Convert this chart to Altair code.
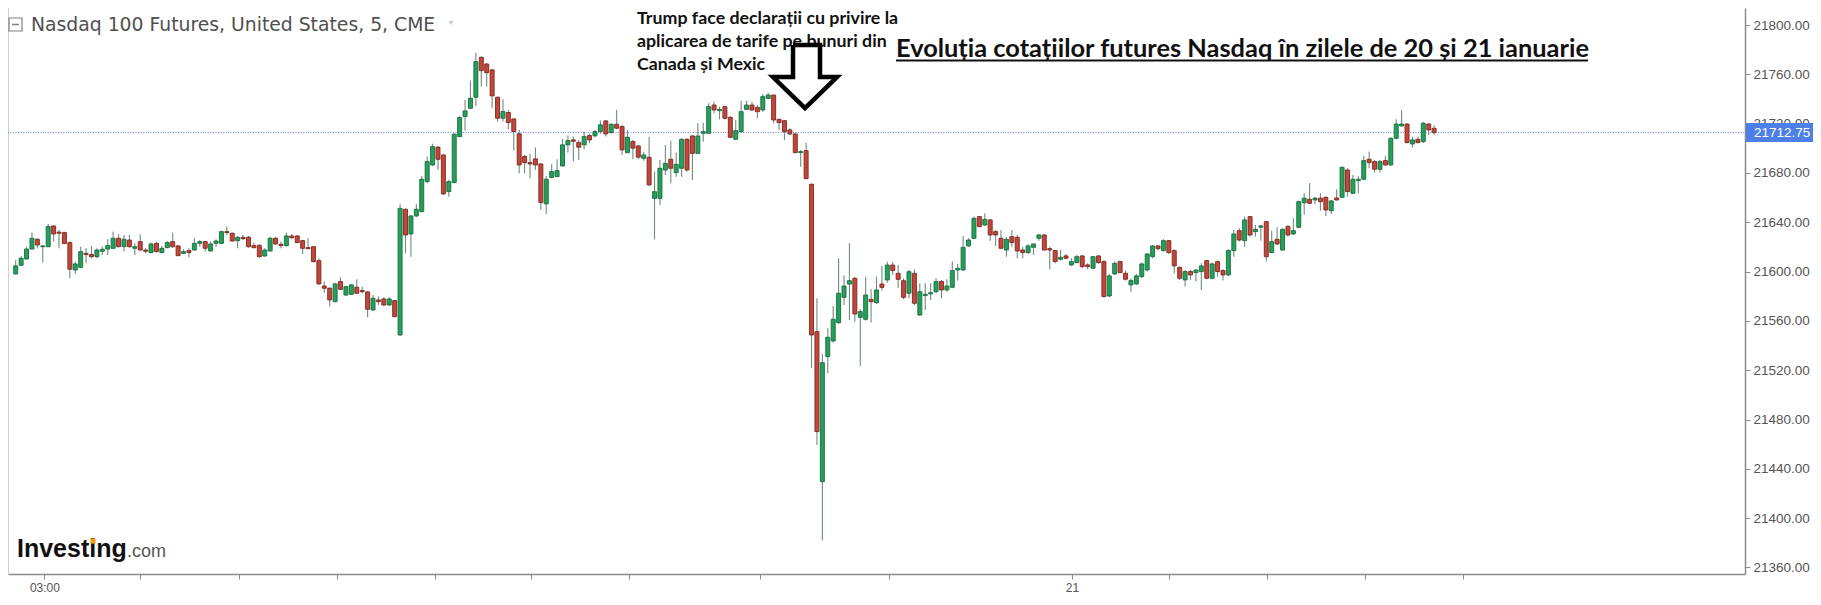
import altair as alt
import pandas as pd

# ---------------- data ----------------
opens = [21598.1, 21605.1, 21610.2, 21618.3, 21626.2, 21620.2, 21620.2, 21637.0, 21632.0, 21631.6,
         21623.5, 21601.3, 21603.5, 21614.8, 21613.8, 21612.1, 21616.5, 21618.3, 21618.9, 21627.0,
         21620.2, 21625.6, 21618.9, 21624.3, 21617.5, 21615.4, 21622.9, 21615.4, 21619.4, 21624.3,
         21620.8, 21614.8, 21617.0, 21617.5, 21622.9, 21624.3, 21616.7, 21622.9, 21622.9, 21632.4,
         21631.1, 21625.1, 21627.8, 21627.8, 21621.1, 21621.3, 21612.7, 21616.7, 21627.0, 21622.1,
         21621.1, 21628.9, 21628.9, 21625.1, 21619.4, 21620.2, 21608.9, 21588.3, 21586.5, 21575.6,
         21591.9, 21581.0, 21581.6, 21587.3, 21584.6, 21583.5, 21568.9, 21577.0, 21577.8, 21572.9,
         21576.5, 21548.6, 21650.5, 21630.5, 21645.1, 21648.7, 21673.0, 21686.5, 21700.9, 21694.6,
         21664.9, 21672.2, 21709.5, 21725.7, 21732.5, 21741.4, 21773.8, 21768.4, 21763.6, 21741.4,
         21724.4, 21729.0, 21723.8, 21711.7, 21693.3, 21688.4, 21691.4, 21687.3, 21654.9, 21676.3,
         21677.1, 21685.7, 21702.8, 21706.8, 21704.6, 21702.8, 21710.3, 21710.1, 21713.6, 21722.2,
         21712.8, 21719.5, 21717.6, 21696.5, 21705.5, 21701.9, 21691.9, 21692.7, 21659.4, 21659.4,
         21682.4, 21691.1, 21680.3, 21683.8, 21707.3, 21710.0, 21695.9, 21712.2, 21712.2, 21735.1,
         21730.5, 21733.8, 21725.1, 21707.3, 21713.5, 21731.6, 21735.1, 21733.2, 21731.1, 21740.5,
         21743.2, 21723.5, 21722.4, 21714.9, 21711.6, 21696.5, 21698.1, 21670.8, 21551.3, 21429.6,
         21531.0, 21543.7, 21558.6, 21579.1, 21589.9, 21594.5, 21562.9, 21561.3, 21577.5, 21574.8,
         21589.9, 21593.2, 21605.3, 21598.6, 21592.6, 21582.4, 21598.6, 21564.8, 21580.5, 21581.9,
         21583.7, 21591.9, 21585.1, 21587.3, 21601.3, 21601.3, 21620.8, 21627.0, 21644.6, 21637.8,
         21641.9, 21632.4, 21627.0, 21617.5, 21628.3, 21627.8, 21617.5, 21615.4, 21619.7, 21627.0,
         21629.7, 21618.6, 21617.0, 21610.0, 21612.7, 21605.4, 21607.3, 21612.7, 21605.4, 21602.7,
         21612.7, 21608.1, 21580.2, 21598.1, 21608.1, 21598.6, 21589.2, 21590.0, 21595.9, 21601.3,
         21612.1, 21620.8, 21617.0, 21625.1, 21617.0, 21603.5, 21593.2, 21600.0, 21599.2, 21600.0,
         21608.9, 21594.6, 21608.1, 21600.8, 21597.3, 21617.0, 21633.2, 21625.1, 21644.6, 21632.4,
         21636.0, 21640.5, 21615.4, 21626.2, 21617.5, 21636.5, 21630.5, 21635.9, 21655.9, 21658.6,
         21658.1, 21659.5, 21660.3, 21649.4, 21659.7, 21660.3, 21682.4, 21663.5, 21673.8, 21674.9,
         21691.1, 21689.2, 21683.0, 21690.0, 21686.5, 21708.1, 21718.1, 21719.7, 21703.5, 21707.3,
         21705.4, 21719.7, 21716.2]
highs = [21609.4, 21612.7, 21620.2, 21631.6, 21627.0, 21621.6, 21638.6, 21637.5, 21633.8, 21632.4,
         21624.3, 21608.1, 21620.2, 21618.9, 21620.8, 21618.9, 21620.2, 21626.2, 21632.4, 21630.2,
         21629.7, 21629.7, 21622.9, 21630.2, 21618.9, 21623.5, 21624.0, 21620.8, 21624.8, 21631.6,
         21621.6, 21618.1, 21618.9, 21627.0, 21625.6, 21625.1, 21624.3, 21626.2, 21633.2, 21636.5,
         21631.6, 21628.9, 21629.7, 21628.9, 21623.5, 21622.1, 21618.9, 21628.3, 21628.3, 21624.3,
         21631.6, 21630.2, 21629.7, 21625.6, 21627.0, 21620.8, 21610.8, 21591.9, 21587.3, 21591.0,
         21595.4, 21588.3, 21590.0, 21593.8, 21587.8, 21584.3, 21581.0, 21579.7, 21579.2, 21579.2,
         21577.0, 21654.8, 21651.3, 21645.9, 21654.8, 21677.6, 21693.3, 21703.6, 21701.9, 21695.2,
         21674.4, 21712.2, 21726.3, 21739.2, 21754.9, 21777.6, 21774.4, 21769.0, 21764.1, 21741.9,
         21739.8, 21731.1, 21724.4, 21714.9, 21694.6, 21695.5, 21700.6, 21687.9, 21677.6, 21687.1,
         21691.1, 21707.6, 21710.3, 21709.5, 21706.8, 21713.6, 21711.7, 21714.9, 21722.5, 21723.0,
         21720.3, 21731.1, 21719.0, 21714.9, 21706.8, 21702.8, 21697.3, 21709.4, 21681.1, 21690.5,
         21702.7, 21706.2, 21696.5, 21708.1, 21708.1, 21710.8, 21720.3, 21720.8, 21736.5, 21737.8,
         21733.8, 21734.3, 21726.2, 21723.0, 21738.6, 21738.6, 21737.8, 21735.1, 21744.0, 21745.1,
         21743.2, 21723.5, 21723.0, 21716.2, 21712.7, 21698.6, 21704.6, 21671.6, 21578.3, 21533.2,
         21554.0, 21572.1, 21610.8, 21596.9, 21623.0, 21595.9, 21569.4, 21595.9, 21585.6, 21595.9,
         21604.5, 21608.0, 21608.0, 21605.3, 21594.5, 21601.3, 21601.8, 21590.5, 21590.5, 21590.5,
         21594.6, 21593.2, 21593.8, 21608.1, 21606.2, 21628.9, 21627.0, 21644.6, 21645.1, 21647.3,
         21642.4, 21633.8, 21633.8, 21627.8, 21633.8, 21629.7, 21620.2, 21622.1, 21622.4, 21630.5,
         21630.5, 21620.2, 21617.5, 21617.5, 21614.3, 21610.8, 21613.5, 21613.5, 21606.7, 21612.7,
         21613.5, 21609.4, 21598.1, 21608.1, 21608.9, 21600.8, 21594.6, 21598.1, 21607.3, 21614.8,
         21621.6, 21621.6, 21626.2, 21625.6, 21618.1, 21604.0, 21601.3, 21601.3, 21601.9, 21606.7,
         21609.4, 21607.3, 21608.9, 21601.9, 21618.1, 21633.8, 21635.1, 21644.6, 21645.1, 21637.8,
         21637.8, 21641.3, 21633.2, 21635.9, 21635.1, 21637.8, 21643.2, 21657.6, 21663.5, 21671.6,
         21660.8, 21663.5, 21660.8, 21658.1, 21666.7, 21685.1, 21683.8, 21678.4, 21677.6, 21693.8,
         21697.3, 21690.5, 21690.5, 21693.8, 21708.9, 21723.5, 21731.1, 21720.3, 21709.5, 21709.5,
         21721.6, 21720.3, 21718.9]
lows = [21597.5, 21605.1, 21610.0, 21618.1, 21618.9, 21607.3, 21619.7, 21624.3, 21618.9, 21622.4,
        21594.6, 21598.1, 21602.9, 21606.7, 21610.8, 21610.8, 21613.5, 21613.5, 21618.1, 21619.7,
        21616.2, 21619.4, 21613.5, 21617.0, 21614.8, 21614.8, 21615.4, 21614.8, 21618.9, 21619.4,
        21612.7, 21614.3, 21611.6, 21617.0, 21620.2, 21616.2, 21616.2, 21620.2, 21622.4, 21629.7,
        21624.3, 21618.9, 21625.6, 21619.4, 21618.9, 21611.3, 21612.1, 21616.2, 21621.6, 21618.9,
        21620.2, 21626.2, 21622.9, 21614.3, 21618.3, 21607.3, 21589.2, 21582.9, 21571.6, 21575.1,
        21585.1, 21580.2, 21581.0, 21581.9, 21582.4, 21563.0, 21568.3, 21572.9, 21572.1, 21572.1,
        21562.9, 21547.8, 21614.8, 21612.1, 21644.0, 21647.9, 21671.7, 21685.7, 21682.5, 21662.2,
        21660.8, 21671.7, 21709.0, 21714.4, 21731.7, 21734.4, 21750.1, 21750.1, 21732.5, 21721.7,
        21721.7, 21715.5, 21698.2, 21679.8, 21679.8, 21675.7, 21682.5, 21650.0, 21646.8, 21675.7,
        21676.5, 21685.2, 21696.5, 21689.2, 21690.6, 21699.2, 21704.1, 21709.0, 21711.7, 21709.5,
        21711.7, 21715.5, 21694.6, 21696.0, 21691.1, 21691.1, 21690.0, 21669.4, 21626.2, 21654.0,
        21678.4, 21671.6, 21677.0, 21677.0, 21681.1, 21674.3, 21695.4, 21705.4, 21711.6, 21728.4,
        21723.5, 21723.5, 21708.1, 21706.7, 21712.7, 21731.1, 21730.5, 21724.3, 21729.7, 21739.7,
        21720.3, 21714.9, 21706.7, 21710.8, 21695.9, 21685.1, 21674.9, 21521.6, 21459.4, 21381.8,
        21517.5, 21542.4, 21557.5, 21572.9, 21560.7, 21559.4, 21523.4, 21560.2, 21558.6, 21573.7,
        21584.5, 21591.0, 21597.2, 21586.4, 21577.5, 21578.3, 21572.9, 21564.0, 21568.9, 21577.0,
        21582.4, 21578.3, 21583.7, 21586.5, 21592.7, 21600.8, 21620.2, 21626.2, 21636.0, 21637.0,
        21625.1, 21620.8, 21618.1, 21612.1, 21620.2, 21610.8, 21610.8, 21614.3, 21613.5, 21625.1,
        21617.0, 21601.9, 21606.7, 21608.9, 21610.0, 21604.6, 21606.7, 21602.7, 21601.9, 21601.9,
        21606.2, 21579.2, 21579.2, 21597.3, 21598.6, 21592.7, 21583.7, 21589.2, 21594.6, 21600.0,
        21610.8, 21617.0, 21616.2, 21614.3, 21598.6, 21593.2, 21587.8, 21593.2, 21591.9, 21585.1,
        21593.8, 21593.8, 21595.9, 21592.7, 21596.5, 21612.1, 21624.3, 21620.2, 21628.4, 21628.4,
        21625.1, 21608.1, 21614.8, 21621.6, 21617.0, 21628.4, 21629.7, 21635.1, 21646.0, 21654.9,
        21654.9, 21649.4, 21645.1, 21646.8, 21657.6, 21659.5, 21660.8, 21663.0, 21663.5, 21674.3,
        21683.8, 21680.3, 21680.3, 21685.7, 21685.7, 21707.3, 21717.6, 21704.0, 21700.8, 21704.0,
        21704.6, 21710.8, 21710.8]
closes = [21604.6, 21610.8, 21618.3, 21627.0, 21621.6, 21620.8, 21636.5, 21630.5, 21631.1, 21622.7,
          21601.9, 21606.2, 21616.2, 21613.8, 21612.1, 21617.5, 21618.1, 21621.1, 21627.0, 21620.2,
          21626.2, 21620.2, 21620.2, 21617.5, 21616.5, 21622.4, 21616.2, 21618.9, 21623.5, 21620.2,
          21612.9, 21616.2, 21615.4, 21622.9, 21624.3, 21618.9, 21622.4, 21624.8, 21632.4, 21631.6,
          21624.8, 21627.8, 21626.7, 21620.2, 21619.4, 21612.1, 21617.5, 21627.0, 21622.4, 21621.1,
          21628.9, 21627.5, 21623.5, 21618.9, 21618.6, 21608.1, 21590.0, 21586.5, 21577.0, 21590.0,
          21585.6, 21587.8, 21589.2, 21582.4, 21583.7, 21569.4, 21578.3, 21575.6, 21572.9, 21577.8,
          21563.5, 21651.3, 21629.7, 21645.1, 21650.5, 21674.9, 21689.2, 21701.4, 21691.1, 21663.0,
          21673.0, 21711.4, 21724.9, 21730.3, 21740.6, 21770.3, 21763.0, 21761.4, 21742.5, 21724.4,
          21729.8, 21720.9, 21713.6, 21686.5, 21688.4, 21687.3, 21686.5, 21656.0, 21674.9, 21681.1,
          21681.9, 21702.8, 21706.3, 21705.7, 21700.9, 21709.5, 21706.8, 21713.6, 21719.0, 21711.7,
          21719.5, 21716.3, 21698.7, 21709.0, 21700.1, 21692.8, 21694.6, 21670.3, 21664.8, 21683.8,
          21687.8, 21683.8, 21687.0, 21707.3, 21682.4, 21695.9, 21710.0, 21713.5, 21733.8, 21731.1,
          21731.6, 21724.3, 21708.9, 21714.3, 21729.7, 21735.1, 21731.1, 21729.7, 21741.9, 21743.2,
          21723.0, 21720.8, 21713.5, 21711.6, 21696.5, 21697.3, 21675.4, 21548.6, 21470.2, 21526.1,
          21546.7, 21561.3, 21582.4, 21588.3, 21592.6, 21565.6, 21567.5, 21581.0, 21575.6, 21585.1,
          21587.2, 21605.3, 21600.8, 21593.7, 21579.1, 21599.9, 21574.3, 21583.7, 21581.6, 21582.9,
          21591.9, 21585.1, 21588.3, 21600.8, 21602.7, 21619.7, 21625.6, 21643.2, 21636.5, 21642.4,
          21629.7, 21629.7, 21618.9, 21626.2, 21623.5, 21616.7, 21615.4, 21620.8, 21622.4, 21629.7,
          21617.5, 21617.5, 21608.1, 21611.6, 21610.8, 21608.1, 21612.1, 21604.0, 21604.0, 21612.1,
          21607.3, 21579.7, 21596.5, 21606.7, 21599.2, 21593.8, 21592.7, 21596.5, 21606.2, 21614.3,
          21620.8, 21618.6, 21625.1, 21615.4, 21604.6, 21594.6, 21600.0, 21597.3, 21601.3, 21604.6,
          21594.6, 21606.2, 21600.0, 21597.3, 21617.0, 21630.5, 21625.6, 21641.9, 21629.7, 21634.3,
          21637.0, 21612.1, 21624.3, 21622.4, 21634.3, 21629.7, 21633.2, 21656.7, 21659.5, 21655.4,
          21659.5, 21656.7, 21650.0, 21657.3, 21658.1, 21684.6, 21664.9, 21674.9, 21674.9, 21690.0,
          21688.4, 21683.0, 21689.2, 21686.5, 21708.1, 21719.7, 21719.7, 21704.6, 21706.8, 21704.6,
          21720.3, 21714.9, 21712.75]

last_price = 21712.75
price_ticks = [21360, 21400, 21440, 21480, 21520, 21560, 21600, 21640, 21680, 21720, 21760, 21800]
time_tick_pos = [5.3, 22.9, 41.2, 59.3, 77.4, 95.1, 113.2, 137.4, 161.3, 195.1, 213.0, 231.1, 249.2, 267.3]
time_tick_labels = ["03:00", "", "", "", "", "", "", "", "", "21", "", "", "", ""]

header_text = "Nasdaq 100 Futures, United States, 5, CME"
note_lines = ["Trump face declarații cu privire la",
              "aplicarea de tarife pe bunuri din",
              "Canada și Mexic"]
title_text = "Evoluția cotațiilor futures Nasdaq în zilele de 20 și 21 ianuarie"
logo_main, logo_suffix = "Investing", ".com"

# arrow outline (annotation shape, in pixels of the plot area)
arrow_px = [(785, 37), (812, 37), (812, 69), (829, 69), (797, 100), (765, 69), (785, 69), (785, 37)]

# ---------------- layout / style ----------------
W, H = 1737, 566
Y_DOMAIN = [21354.7, 21813.8]
X_DOMAIN = [-0.5, 318.5]
GREEN, GREEN_EDGE = "#24a05b", "#1a6b3f"
RED, RED_EDGE = "#c4463b", "#7a2820"
WICK = "#6f8d7d"
AXIS_GRAY = "#8a8a8a"
LABEL_GRAY = "#555555"

n = len(closes)
df = pd.DataFrame({"i": list(range(n)), "open": opens, "high": highs, "low": lows, "close": closes})
df["dir"] = ["up" if c >= o else "down" for o, c in zip(df["open"], df["close"])]
df["body_lo"] = df[["open", "close"]].min(axis=1)
df["body_hi"] = df[["open", "close"]].max(axis=1)

label_expr = " : ".join(
    f"datum.value == {p} ? '{l}'" for p, l in zip(time_tick_pos, time_tick_labels) if l
) + " : ''"

x_axis = alt.Axis(values=time_tick_pos, labelExpr=label_expr, title=None, grid=False,
                  tickSize=5, tickColor=AXIS_GRAY, domainColor=AXIS_GRAY, domainWidth=1.5,
                  labelFont="Liberation Sans", labelFontSize=12, labelColor=LABEL_GRAY,
                  labelPadding=3, labelOverlap=False, labelFlush=False,
                  labelFontWeight={"condition": {"test": "datum.label == '21'", "value": "bold"},
                                   "value": "normal"})
y_axis = alt.Axis(orient="right", values=price_ticks, format=".2f", title=None, grid=False,
                  tickSize=5, tickColor=AXIS_GRAY, domainColor=AXIS_GRAY, domainWidth=1.5,
                  labelFont="Liberation Sans", labelFontSize=13.5, labelColor=LABEL_GRAY,
                  labelPadding=3)
xs = alt.Scale(domain=X_DOMAIN, nice=False, zero=False)
ys = alt.Scale(domain=Y_DOMAIN, nice=False, zero=False)

base = alt.Chart(df)

wicks = base.mark_rule(color=WICK, strokeWidth=1.1).encode(
    x=alt.X("i:Q", scale=xs, axis=x_axis),
    y=alt.Y("low:Q", scale=ys, axis=y_axis),
    y2="high:Q",
)
bodies = base.mark_bar(size=4.0, strokeWidth=0.9).encode(
    x=alt.X("i:Q", scale=xs, axis=x_axis),
    y=alt.Y("body_lo:Q", scale=ys, axis=y_axis),
    y2="body_hi:Q",
    color=alt.Color("dir:N", scale=alt.Scale(domain=["up", "down"], range=[GREEN, RED]), legend=None),
    stroke=alt.Stroke("dir:N", scale=alt.Scale(domain=["up", "down"], range=[GREEN_EDGE, RED_EDGE]), legend=None),
)

one = pd.DataFrame({"p": [last_price]})
price_line = alt.Chart(one).mark_rule(color="#5f84ee", strokeWidth=1, strokeDash=[1, 1.5]).encode(
    y=alt.Y("p:Q", scale=ys, axis=y_axis), x=alt.value(0), x2=alt.value(W)
)
one_box = pd.DataFrame({"lo": [last_price - 7.7], "hi": [last_price + 7.7], "t": [f"{last_price:.2f}"], "p": [last_price]})
price_box = alt.Chart(one_box).mark_rect(color="#4d7fe6").encode(
    y=alt.Y("lo:Q", scale=ys, axis=y_axis), y2="hi:Q", x=alt.value(W + 1), x2=alt.value(W + 68)
)
price_txt = alt.Chart(one_box).mark_text(align="left", baseline="middle", color="white",
                                          font="Liberation Sans", fontSize=13.5).encode(
    y=alt.Y("p:Q", scale=ys, axis=y_axis), x=alt.value(W + 9), text="t:N"
)

left_edge = alt.Chart(one).mark_rule(color="#d0d0d0", strokeWidth=1).encode(
    x=alt.value(0.5), y=alt.value(0), y2=alt.value(H))


def txt(s, x, y, **kw):
    return alt.Chart(pd.DataFrame({"t": [s]})).mark_text(align="left", baseline="alphabetic", **kw).encode(
        x=alt.value(x), y=alt.value(y), text="t:N")


header = txt(header_text, 23, 23, font="DejaVu Sans", fontSize=18.8, color="#505050")
icon_box = alt.Chart(one).mark_rect(fill="white", stroke="#808080", strokeWidth=1.2).encode(
    x=alt.value(1), x2=alt.value(14), y=alt.value(10), y2=alt.value(23))
icon_minus = alt.Chart(one).mark_rule(color="#808080", strokeWidth=1.5).encode(
    x=alt.value(4), x2=alt.value(11), y=alt.value(16.5))
caret = alt.Chart(one).mark_point(shape="triangle-down", filled=True, color="#b0b0b0", size=22).encode(
    x=alt.value(443), y=alt.value(15))

notes = [txt(line, 629, yb, font="Lato", fontWeight="bold", fontSize=17.8, color="#111111")
         for line, yb in zip(note_lines, [15.5, 38.5, 61.5])]
title = txt(title_text, 888, 49, font="Lato", fontWeight="bold", fontSize=25.4, color="#111111")
underline = alt.Chart(one).mark_rule(color="#111111", strokeWidth=2).encode(
    x=alt.value(888), x2=alt.value(1580), y=alt.value(52.5))

arrow_df = pd.DataFrame({"px": [p[0] for p in arrow_px], "py": [p[1] for p in arrow_px],
                         "k": list(range(len(arrow_px)))})
arrow = alt.Chart(arrow_df).mark_line(color="black", strokeWidth=4.5, strokeJoin="miter").encode(
    x=alt.X("px:Q", scale=None), y=alt.Y("py:Q", scale=None), order="k:Q")

logo1 = txt(logo_main, 9, 549, font="Liberation Sans", fontWeight="bold", fontSize=25, color="#111111")
logo2 = txt(logo_suffix, 119, 549, font="Liberation Sans", fontSize=18, color="#555555")
logo_dot = alt.Chart(one).mark_square(color="#f5a21b", size=26, opacity=1).encode(
    x=alt.value(85), y=alt.value(533))

chart = alt.layer(
    left_edge, price_line, wicks, bodies, price_box, price_txt,
    icon_box, icon_minus, header, caret, *notes, title, underline, arrow,
    logo1, logo2, logo_dot,
).properties(
    width=W, height=H,
    autosize=alt.AutoSizeParams(type="none"),
    padding={"left": 0, "top": 0, "right": 1805 - W, "bottom": 20},
    background="white",
).configure_view(stroke=None)

chart.save("out.html", embed_options={"renderer": "svg", "actions": False})
